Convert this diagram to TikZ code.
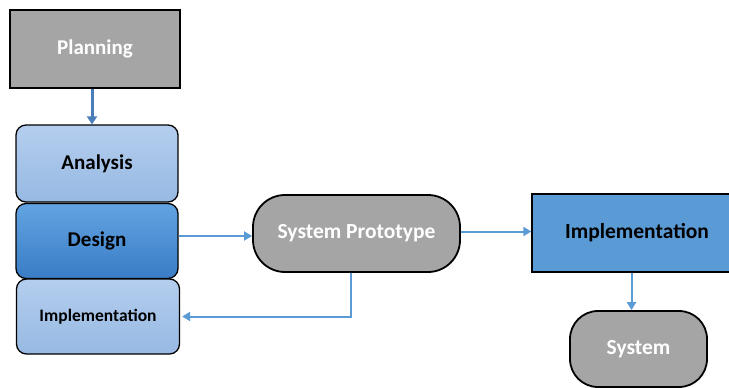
\documentclass[tikz,border=0pt]{standalone}
\usepackage{fontspec}
\setmainfont{Carlito}
\usetikzlibrary{arrows.meta}
\definecolor{boxgray}{HTML}{A5A5A5}
\definecolor{lightblueA}{HTML}{B4CEEE}
\definecolor{lightblueB}{HTML}{97B9E3}
\definecolor{midblueA}{HTML}{62A3E2}
\definecolor{midblueB}{HTML}{3A7DC5}
\definecolor{solidblue}{HTML}{5B9BD5}
\definecolor{linkblue}{HTML}{5B9BD5}
\definecolor{darklink}{HTML}{4A7EBB}
\tikzset{
  x=1pt, y=-1pt,
  base/.style={draw=black, line width=1.3pt, inner sep=0pt, font=\bfseries\fontsize{21}{25}\selectfont},
  graybox/.style={base, fill=boxgray, text=white, line width=1.8pt},
  stackbox/.style={base, rounded corners=10pt, top color=lightblueA, bottom color=lightblueB, text=black},
  darkstack/.style={base, rounded corners=10pt, top color=midblueA, bottom color=midblueB, text=black},
  pill/.style={graybox, rounded corners=32pt},
  link/.style={draw=linkblue, line width=2pt, -{Triangle[length=8pt,width=9pt]}},
}
\begin{document}
\begin{tikzpicture}
\useasboundingbox (0,0) rectangle (729,388);
% left stack
\node[graybox, minimum width=170pt, minimum height=78pt] (plan) at (95,49) {Planning};
\node[stackbox, minimum width=162pt, minimum height=77pt] (ana) at (97,163.5) {Analysis};
\node[darkstack, minimum width=162pt, minimum height=75pt] (des) at (97,241) {Design};
\node[stackbox, minimum width=163pt, minimum height=75pt, font=\bfseries\fontsize{17.5}{21}\selectfont] (impL) at (98,316.5) {Implementation};
% prototype and delivery
\node[pill, minimum width=207pt, minimum height=77pt, font=\bfseries\fontsize{21.5}{25}\selectfont] (sp) at (356.5,233.5) {System Prototype};
\node[base, fill=solidblue, text=black, minimum width=210pt, minimum height=78pt, font=\bfseries\fontsize{21.5}{25}\selectfont] (impR) at (637,233) {Implementation};
\node[pill, rounded corners=28pt, minimum width=137pt, minimum height=76pt, font=\bfseries\fontsize{21.5}{25}\selectfont] (sys) at (638.5,349) {System};
% connectors
\draw[draw=darklink, line width=3pt, -{Triangle[length=8pt,width=10pt]}] ([xshift=-3pt]plan.south) -- ([xshift=-3pt]plan.south |- ana.north);
\draw[link] ([yshift=5pt]des.east) -- ([yshift=5pt]des.east -| sp.west);
\draw[link] ([yshift=2pt]sp.east) -- ([yshift=2pt]sp.east -| impR.west);
\draw[link] ([xshift=-6pt]sp.south) |- ([xshift=2pt]impL.east);
\draw[link] ([xshift=-7pt]sys.north |- impR.south) -- ([xshift=-7pt]sys.north);
\end{tikzpicture}
\end{document}
